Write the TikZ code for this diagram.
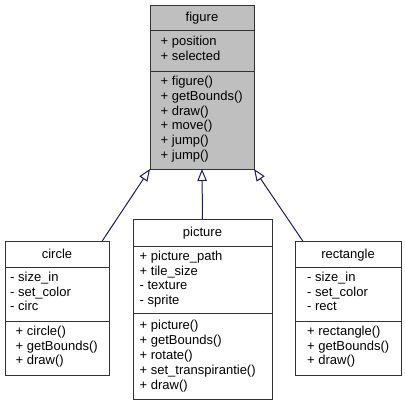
\documentclass[tikz,border=0pt]{standalone}
\usepackage{fontspec}
\setmainfont{Liberation Sans}
\usetikzlibrary{arrows.meta}
\definecolor{linkblue}{HTML}{191970}
\begin{document}
\begin{tikzpicture}[x=1bp,y=-1bp,font=\fontsize{13bp}{15bp}\selectfont,
        classbox/.style = {draw=black!80,line width=1bp,anchor=north west,inner sep=0pt,outer sep=0pt},
        divider/.style = {black!80,line width=1bp},
        member/.style = {anchor=base west,inner sep=0pt},
        title/.style = {anchor=base,inner sep=0pt},
        arrow/.style = {linkblue,line width=1bp,-{Triangle[open,length=12bp,width=9.5bp]}}]
    \useasboundingbox (0,0) rectangle (405,404);

    % figure
    \node[classbox,fill=black!25,minimum width=104bp,minimum height=164bp] (figure) at (150,5) {};
    \draw[divider] (150,30.5) -- (254,30.5);
    \draw[divider] (150,71) -- (254,71);
    \node[title] (figure-t) at (202,21.8) {figure};
    \foreach \txt [count=\i] in {+ position, + selected}
        \node[member] (figure-a\i) at (160.5,31+14.7*\i) {\txt};
    \foreach \txt [count=\i] in {+ figure(), + getBounds(), + draw(), + move(), + jump(), + jump()}
        \node[member] (figure-m\i) at (160.5,71+14.7*\i) {\txt};

    % circle
    \node[classbox,minimum width=104bp,minimum height=134bp] (circle) at (5,241) {};
    \draw[divider] (5,267) -- (109,267);
    \draw[divider] (5,321) -- (109,321);
    \node[title] (circle-t) at (57,258.3) {circle};
    \foreach \txt [count=\i] in {- size\_in, - set\_color, - circ}
        \node[member] (circle-a\i) at (10,267+14.5*\i) {\txt};
    \foreach \txt [count=\i] in {+ circle(), + getBounds(), + draw()}
        \node[member] (circle-m\i) at (15.5,321+14.5*\i) {\txt};

    % picture
    \node[classbox,minimum width=139bp,minimum height=180bp] (picture) at (133,219) {};
    \draw[divider] (133,246) -- (272,246);
    \draw[divider] (133,313) -- (272,313);
    \node[title] (picture-t) at (202.5,236.3) {picture};
    \foreach \txt [count=\i] in {+ picture\_path, + tile\_size, - texture, - sprite}
        \node[member] (picture-a\i) at (139.5,246.3+14.5*\i) {\txt};
    \foreach \txt [count=\i] in {+ picture(), + getBounds(), + rotate(), + set\_transpirantie(), + draw()}
        \node[member] (picture-m\i) at (139.5,314+15*\i) {\txt};

    % rectangle
    \node[classbox,minimum width=106bp,minimum height=134bp] (rectangle) at (295,241) {};
    \draw[divider] (295,267) -- (401,267);
    \draw[divider] (295,321) -- (401,321);
    \node[title] (rectangle-t) at (348,258.3) {rectangle};
    \foreach \txt [count=\i] in {- size\_in, - set\_color, - rect}
        \node[member] (rectangle-a\i) at (307,267+14.5*\i) {\txt};
    \foreach \txt [count=\i] in {+ rectangle(), + getBounds(), + draw()}
        \node[member] (rectangle-m\i) at (307,321+14.5*\i) {\txt};

    \draw[arrow] (circle.56) -- (figure.south west);
    \draw[arrow] (picture.north) -- (figure.south);
    \draw[arrow] (rectangle.124) -- (figure.south east);
\end{tikzpicture}
\end{document}
